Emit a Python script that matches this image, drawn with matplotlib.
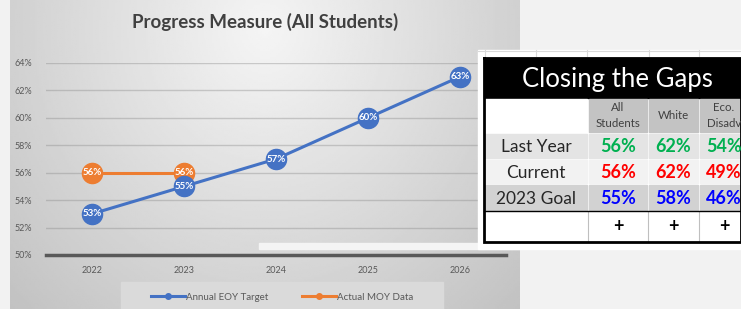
import numpy as np
import matplotlib
matplotlib.use('Agg')
import matplotlib.pyplot as plt
from matplotlib.patches import Rectangle
from matplotlib.lines import Line2D

plt.rcParams['font.family'] = ['Lato', 'DejaVu Sans']

# chart data
years = ['2022', '2023', '2024', '2025', '2026']
eoy_target = [53, 55, 57, 60, 63]
moy_actual = [56, 56]
y_ticks = [50, 52, 54, 56, 58, 60, 62, 64]

# table data
table_title = 'Closing the Gaps'
table_cols = ['All\nStudents', 'White', 'Eco.\nDisadv']
table_rows = ['Last Year', 'Current', '2023 Goal']
last_year = ['56%', '62%', '54%']
current = ['56%', '62%', '49%']
goal_2023 = ['55%', '58%', '46%']
bottom_marks = ['+', '+', '+']

W, H = 741, 309
BLUE = '#4472c4'
ORANGE = '#ed7d31'
GREY_TXT = '#595959'

fig = plt.figure(figsize=(W / 100, H / 100), dpi=100)
fig.patch.set_facecolor('#f2f2f2')


def px_box(x0, y0, x1, y1):
    # pixel box (top-left origin) -> figure fraction rect
    return [x0 / W, 1 - y1 / H, (x1 - x0) / W, (y1 - y0) / H]


# chart panel with radial grey gradient
bg = fig.add_axes(px_box(10, 0, 520, H), zorder=0)
xx, yy = np.meshgrid(np.linspace(10, 520, 256), np.linspace(0, H, 160))
d = np.sqrt(((xx - 265) / 255) ** 2 + ((yy - 30) / 280) ** 2) / np.sqrt(2)
shade = 0.96 - 0.2 * np.clip(d, 0, 1)
bg.imshow(shade, cmap='gray', vmin=0, vmax=1, extent=(10, 520, H, 0), aspect='auto')
bg.set_xlim(10, 520)
bg.set_ylim(H, 0)
bg.axis('off')
bg.add_patch(Rectangle((121, 282), 322, 30, color='#dadada', zorder=2))
bg.text(265, 22, 'Progress Measure (All Students)', ha='center', va='center',
        fontsize=13.5, fontweight='bold', color='#404040')

# line chart
ax = fig.add_axes(px_box(46, 63, 506, 255), zorder=1)
ax.patch.set_alpha(0)
x = np.arange(len(years))
ax.set_xlim(-0.5, len(years) - 0.5)
ax.set_ylim(50, 64)
ax.set_yticks(y_ticks)
ax.set_yticklabels([f'{t}%' for t in y_ticks])
ax.set_xticks(x)
ax.set_xticklabels(years)
ax.tick_params(length=0, labelsize=6.5, colors=GREY_TXT, pad=8)
ax.tick_params(axis='y', pad=10)
for s in ax.spines.values():
    s.set_visible(False)
for t in y_ticks[1:]:
    ax.axhline(t, color='#8c8c8c', alpha=0.4, lw=1, zorder=1)
ax.axhline(50, color='#595959', lw=2.5, zorder=2, clip_on=False)

ax.plot(x[:len(moy_actual)], moy_actual, color=ORANGE, lw=2.2, marker='o',
        ms=14.5, zorder=3, clip_on=False)
ax.plot(x, eoy_target, color=BLUE, lw=2.2, marker='o', ms=14.5, zorder=4,
        clip_on=False)
for xi, v in zip(x, eoy_target):
    ax.text(xi, v, f'{v}%', ha='center', va='center', fontsize=7,
            fontweight='bold', color='white', zorder=6)
for xi, v in zip(x, moy_actual):
    ax.text(xi, v, f'{v}%', ha='center', va='center', fontsize=7,
            fontweight='bold', color='white', zorder=6)

handles = [Line2D([], [], color=BLUE, lw=2.2, marker='o', ms=4),
           Line2D([], [], color=ORANGE, lw=2.2, marker='o', ms=4)]
ax.legend(handles, ['Annual EOY Target', 'Actual MOY Data'], ncol=2,
          loc='center', bbox_to_anchor=(282 / W, 1 - 297 / H),
          bbox_transform=fig.transFigure, frameon=False, fontsize=7,
          labelcolor=GREY_TXT, handlelength=3.5, handletextpad=0.1,
          columnspacing=3.5)

# pasted table on top
ov = fig.add_axes([0, 0, 1, 1], zorder=5)
ov.set_xlim(0, W)
ov.set_ylim(H, 0)
ov.axis('off')
ov.patch.set_alpha(0)

ov.add_patch(Rectangle((259, 243), 262, 6, color='#f4f4f4'))
ov.add_patch(Rectangle((478, 50), W - 478, 199, color='white'))
ov.plot([478, W], [50.5, 50.5], color='#d9d9d9', lw=0.8)
for gx in [485, 536, 587, 649, 699]:
    ov.plot([gx, gx], [50, 58], color='#d9d9d9', lw=0.8)

col_x = [484, 588, 648, 699, 760]
row_y = [98, 133, 159, 184, 211, 242]
row_bg = ['white', '#e4e4e4', '#f2f2f2', '#d2d2d2', 'white']
row_vals = [last_year, current, goal_2023]
row_colors = ['#00b050', '#ff0000', '#0000ff']

ov.add_patch(Rectangle((484, 58), 280, 40, color='black'))
ov.text(617, 79, table_title, ha='center', va='center',
        fontsize=18.5, color='white')

for r in range(5):
    y0, y1 = row_y[r], row_y[r + 1]
    for c in range(4):
        x0, x1 = col_x[c], col_x[c + 1]
        fc = row_bg[r]
        if r == 0 and c > 0:
            fc = '#c3c3c3'
        ov.add_patch(Rectangle((x0 + 1, y0 + 1), x1 - x0 - 2, y1 - y0 - 2,
                               color=fc))
        xm, ym = (x0 + x1) / 2, (y0 + y1) / 2
        if c == 3:
            xm = x0 + 25
        if r == 0 and c > 0:
            ov.text(xm, ym, table_cols[c - 1], ha='center', va='center',
                    fontsize=8.3, color='#404040', linespacing=1.45)
        elif 1 <= r <= 3:
            if c == 0:
                ov.text(xm, ym + 1, table_rows[r - 1], ha='center',
                        va='center', fontsize=12.5, color='#262626')
            else:
                ov.text(xm, ym + 1, row_vals[r - 1][c - 1], ha='center',
                        va='center', fontsize=13, fontweight='bold',
                        color=row_colors[r - 1])
        elif r == 4 and c > 0:
            ov.text(xm, ym, bottom_marks[c - 1], ha='center', va='center',
                    fontsize=13, fontweight='bold', color='black')
            ov.plot([x0, x0], [y0, y1], color='#bfbfbf', lw=0.8)

ov.plot([484, W], [211, 211], color='black', lw=1)
ov.plot([484, W, W, 484, 484], [58, 58, 242, 242, 58], color='black',
        lw=2, solid_joinstyle='miter')

fig.savefig('out.png', dpi=100, facecolor=fig.get_facecolor())
